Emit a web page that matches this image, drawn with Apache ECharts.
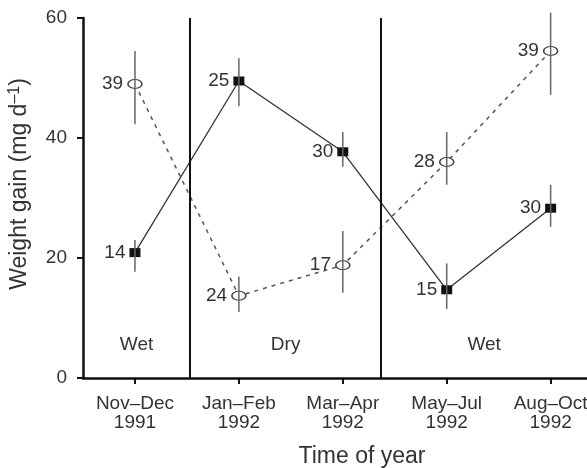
<!DOCTYPE html>
<html>
<head>
<meta charset="UTF-8">
<title>Weight gain</title>
<style type="text/css">
  * {margin: 0; padding: 0;}
  body {background: #fff;}
</style>
</head>
<body>
<div id="chart" style="width:587px;height:468px"></div>
<script src="https://cdn.jsdelivr.net/npm/echarts@6/dist/echarts.min.js"></script>
<script type="text/javascript">
// sampling periods (x positions 1..5)
var periods = ['Nov–Dec\n1991', 'Jan–Feb\n1992', 'Mar–Apr\n1992', 'May–Jul\n1992', 'Aug–Oct\n1992'];
var positions = [1, 2, 3, 4, 5];

// filled squares, solid line
var closedMean = [20.9, 49.5, 37.7, 14.7, 28.3];
var closedLow = [17.7, 45.3, 35.2, 11.5, 25.2];
var closedHigh = [23.0, 53.3, 41.0, 19.1, 32.2];
var closedN = [14, 25, 30, 15, 30];

// open circles, dashed line
var openMean = [49.0, 13.7, 18.8, 36.0, 54.5];
var openLow = [42.3, 11.0, 14.2, 32.2, 47.2];
var openHigh = [54.5, 16.9, 24.5, 41.0, 60.9];
var openN = [39, 24, 17, 28, 39];

// seasons and their limits on the x scale
var seasons = ['Wet', 'Dry', 'Wet'];
var seasonBounds = [0.5, 1.53, 3.37, 5.35];

var font = 'Liberation Sans, Arial, sans-serif';

function pairs(ys) {
  var out = [];
  for (var i = 0; i < positions.length; i++) out.push([positions[i], ys[i]]);
  return out;
}

function bars(lo, hi) {
  var out = [];
  for (var i = 0; i < positions.length; i++) out.push([positions[i], lo[i], hi[i]]);
  return out;
}

function errorBar(params, api) {
  var a = api.coord([api.value(0), api.value(1)]);
  var b = api.coord([api.value(0), api.value(2)]);
  return {
    type: 'line',
    shape: {x1: a[0], y1: a[1], x2: b[0], y2: b[1]},
    style: {stroke: '#666', lineWidth: 1.5}
  };
}

var dividers = [];
for (var i = 1; i < seasonBounds.length - 1; i++) dividers.push({xAxis: seasonBounds[i]});

var areas = [];
for (var i = 0; i < seasons.length; i++) {
  areas.push([{xAxis: seasonBounds[i], name: seasons[i]}, {xAxis: seasonBounds[i + 1]}]);
}

var chart = echarts.init(document.getElementById('chart'));

var option = {
  backgroundColor: '#fff',
  animation: false,
  textStyle: {fontFamily: font},
  grid: {left: 83, right: 0, top: 18, bottom: 90, outerBoundsMode: 'none'},
  xAxis: {
    type: 'value',
    min: seasonBounds[0],
    max: seasonBounds[seasonBounds.length - 1],
    splitLine: {show: false},
    axisLine: {lineStyle: {color: '#111', width: 2.5}},
    axisTick: {customValues: positions, length: 6, lineStyle: {color: '#111', width: 2}},
    axisLabel: {
      customValues: positions,
      formatter: function (v) { return periods[Math.round(v) - 1]; },
      fontSize: 19, lineHeight: 19, color: '#333', margin: 16, fontFamily: font
    },
    name: 'Time of year',
    nameLocation: 'middle',
    nameGap: 67,
    nameTextStyle: {fontSize: 23, color: '#333', padding: [0, 0, 0, 54], fontFamily: font}
  },
  yAxis: {
    type: 'value',
    min: 0, max: 60, interval: 20,
    splitLine: {show: false},
    axisLine: {show: true, lineStyle: {color: '#111', width: 2.5}},
    axisTick: {show: true, length: 6, lineStyle: {color: '#111', width: 2}},
    axisLabel: {fontSize: 19, color: '#333', margin: 16, fontFamily: font},
    name: 'Weight gain (mg d{sup|–1})',
    nameLocation: 'middle',
    nameGap: 50,
    nameTextStyle: {
      fontSize: 23, color: '#333', padding: [0, 0, 0, 28], fontFamily: font,
      rich: {sup: {fontSize: 16, verticalAlign: 'top', padding: [0, 0, 10, 0], color: '#333'}}
    }
  },
  series: [
    {
      name: 'closed',
      type: 'line',
      z: 2,
      data: pairs(closedMean),
      symbol: 'rect',
      symbolSize: [11, 9],
      itemStyle: {color: '#111'},
      lineStyle: {color: '#333', width: 1.3},
      label: {
        show: true, position: 'left', distance: 4,
        fontSize: 19, color: '#333', fontFamily: font,
        formatter: function (p) { return closedN[p.dataIndex]; }
      },
      emphasis: {disabled: true},
      markLine: {
        silent: true, symbol: 'none',
        label: {show: false},
        lineStyle: {color: '#111', width: 2, type: 'solid'},
        data: dividers
      },
      markArea: {
        silent: true,
        itemStyle: {color: 'rgba(0,0,0,0)'},
        label: {show: true, position: 'insideBottom', distance: 24, fontSize: 19, color: '#333', fontFamily: font},
        data: areas
      }
    },
    {
      name: 'open',
      type: 'line',
      z: 2,
      data: pairs(openMean),
      symbol: 'circle',
      symbolSize: [14, 9],
      itemStyle: {color: '#fff', borderColor: '#444', borderWidth: 1.3},
      lineStyle: {color: '#555', width: 1.5, type: [4, 5]},
      label: {
        show: true, position: 'left', distance: 4,
        fontSize: 19, color: '#333', fontFamily: font,
        formatter: function (p) { return openN[p.dataIndex]; }
      },
      emphasis: {disabled: true}
    },
    {
      type: 'custom',
      z: 3,
      clip: false,
      silent: true,
      renderItem: errorBar,
      data: bars(closedLow, closedHigh)
    },
    {
      type: 'custom',
      z: 3,
      clip: false,
      silent: true,
      renderItem: errorBar,
      data: bars(openLow, openHigh)
    }
  ]
};

chart.setOption(option);
</script>
</body>
</html>
